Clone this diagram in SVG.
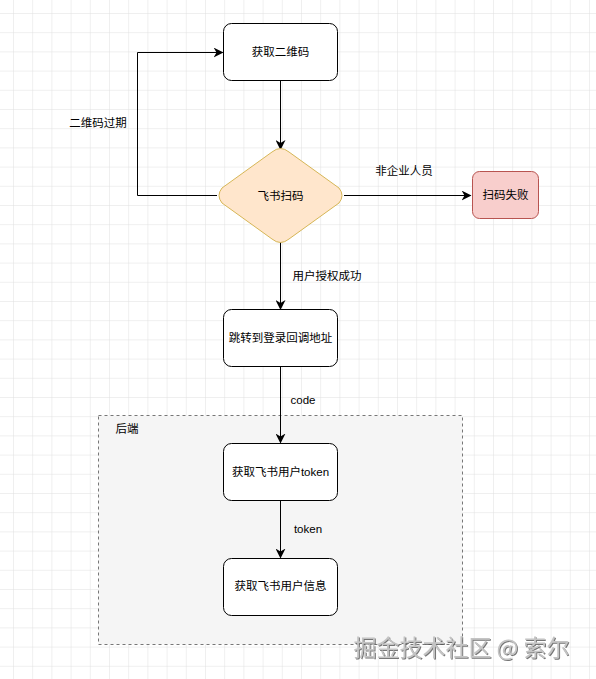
<svg xmlns="http://www.w3.org/2000/svg" width="596" height="679" viewBox="0 0 596 679">
<defs>
<pattern id="grid" x="13" y="13" width="19.2" height="19.2" patternUnits="userSpaceOnUse">
<path d="M0 0H19.2M0 0V19.2" fill="none" stroke="#e0e0e0" stroke-width="1"/>
</pattern>
<marker id="arr" viewBox="0 0 10 10" refX="9" refY="5" markerWidth="10" markerHeight="10" markerUnits="userSpaceOnUse" orient="auto">
<path d="M0 0L10 5L0 10L3 5Z" fill="#000"/>
</marker>
<filter id="sh" x="-10%" y="-30%" width="120%" height="160%">
<feDropShadow dx="1" dy="1" stdDeviation="0.6" flood-color="#555" flood-opacity="0.8"/>
</filter>
</defs>
<style>
.box{fill:#fff;stroke:#000;stroke-width:1}
.t{font-family:"Liberation Sans","Noto Sans CJK SC",sans-serif;font-size:11.5px;fill:#000;text-anchor:middle;dominant-baseline:central}
.e{fill:none;stroke:#000;stroke-width:1;marker-end:url(#arr)}
</style>
<rect width="596" height="679" fill="#fff"/>
<rect width="596" height="679" fill="url(#grid)"/>

<g id="backend">
<rect x="98.5" y="415.5" width="364" height="229" fill="#f5f5f5" stroke="#777" stroke-width="1" stroke-dasharray="3 3"/>
<text class="t" x="127" y="429">后端</text>
</g>

<g id="connectors">
<path class="e" d="M280.5 80V149"/>
<path class="e" d="M217 195.5H137.5V52.5H222.5"/>
<path class="e" d="M344 195.5H470.5"/>
<path class="e" d="M280.5 241V309"/>
<path class="e" d="M280.5 367V442.5"/>
<path class="e" d="M280.5 501V557.5"/>
<text class="t" x="98" y="123">二维码过期</text>
<text class="t" x="404" y="171">非企业人员</text>
<text class="t" x="327" y="276">用户授权成功</text>
<text class="t" x="303" y="400">code</text>
<text class="t" x="308" y="529">token</text>
</g>

<g id="n1">
<rect class="box" x="223.5" y="23.5" width="114" height="57" rx="8"/>
<text class="t" x="280.5" y="52">获取二维码</text>
</g>
<g id="n2">
<path d="M272 152Q280.5 145 289 152L339 188Q345 195.5 339 203L289 239Q280.5 246 272 239L222 203Q216 195.5 222 188Z" fill="#ffe6cc" stroke="#d6b656" stroke-width="1"/>
<text class="t" x="280.5" y="195.5">飞书扫码</text>
</g>
<g id="n3">
<rect x="472.5" y="171.5" width="66" height="47" rx="7" fill="#f8cecc" stroke="#b85450" stroke-width="1"/>
<text class="t" x="505.5" y="195">扫码失败</text>
</g>
<g id="n4">
<rect class="box" x="223.5" y="309.5" width="114" height="57" rx="8"/>
<text class="t" x="280.5" y="338">跳转到登录回调地址</text>
</g>
<g id="n5">
<rect class="box" x="223.5" y="443.5" width="114" height="57" rx="8"/>
<text class="t" x="280.5" y="472">获取飞书用户token</text>
</g>
<g id="n6">
<rect class="box" x="223.5" y="558.5" width="114" height="57" rx="8"/>
<text class="t" x="280.5" y="586">获取飞书用户信息</text>
</g>

<text x="461.5" y="646" font-family="Noto Sans CJK SC, sans-serif" font-size="23" fill="#c4c4c4" text-anchor="middle" dominant-baseline="central" filter="url(#sh)">掘金技术社区 @ 索尔</text>
</svg>
